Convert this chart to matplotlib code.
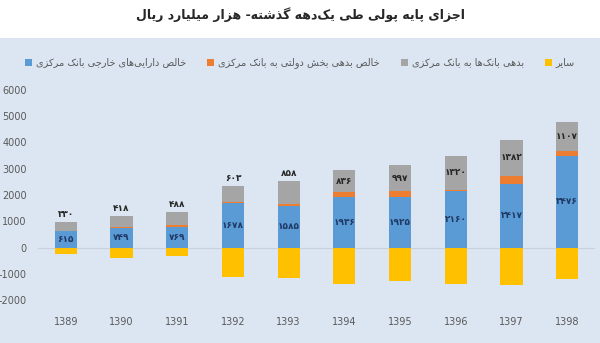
import matplotlib
matplotlib.use("Agg")
import matplotlib.pyplot as plt
from matplotlib.patches import Rectangle, Patch
import numpy as np

# Values in thousand billion rials
years = ['1389', '1390', '1391', '1392', '1393', '1394', '1395', '1396', '1397', '1398']
foreign_assets = [615, 749, 769, 1678, 1585, 1936, 1925, 2160, 2417, 3476]
gov_debt = [15, 30, 90, 60, 90, 178, 215, 20, 310, 190]
bank_debt = [330, 418, 488, 603, 858, 836, 997, 1320, 1382, 1107]
other = [-250, -390, -310, -1110, -1150, -1390, -1276, -1390, -1430, -1200]

title = 'اجزای پایه پولی طی یک\u200cدهه گذشته- هزار میلیارد ریال'
series_names = [
    'خالص دارایی\u200cهای خارجی بانک مرکزی',
    'خالص بدهی بخش دولتی به بانک مرکزی',
    'بدهی بانک\u200cها به بانک مرکزی',
    'سایر',
]

# presentation forms: (isolated, final[, initial, medial])
FORMS = {
    'ا': (0xFE8D, 0xFE8E),
    'ب': (0xFE8F, 0xFE90, 0xFE91, 0xFE92),
    'پ': (0xFB56, 0xFB57, 0xFB58, 0xFB59),
    'ت': (0xFE95, 0xFE96, 0xFE97, 0xFE98),
    'ج': (0xFE9D, 0xFE9E, 0xFE9F, 0xFEA0),
    'خ': (0xFEA5, 0xFEA6, 0xFEA7, 0xFEA8),
    'د': (0xFEA9, 0xFEAA),
    'ذ': (0xFEAB, 0xFEAC),
    'ر': (0xFEAD, 0xFEAE),
    'ز': (0xFEAF, 0xFEB0),
    'س': (0xFEB1, 0xFEB2, 0xFEB3, 0xFEB4),
    'ش': (0xFEB5, 0xFEB6, 0xFEB7, 0xFEB8),
    'ص': (0xFEB9, 0xFEBA, 0xFEBB, 0xFEBC),
    'ط': (0xFEC1, 0xFEC2, 0xFEC3, 0xFEC4),
    'ک': (0xFB8E, 0xFB8F, 0xFB90, 0xFB91),
    'گ': (0xFB92, 0xFB93, 0xFB94, 0xFB95),
    'ل': (0xFEDD, 0xFEDE, 0xFEDF, 0xFEE0),
    'م': (0xFEE1, 0xFEE2, 0xFEE3, 0xFEE4),
    'ن': (0xFEE5, 0xFEE6, 0xFEE7, 0xFEE8),
    'ه': (0xFEE9, 0xFEEA, 0xFEEB, 0xFEEC),
    'و': (0xFEED, 0xFEEE),
    'ی': (0xFBFC, 0xFBFD, 0xFBFE, 0xFBFF),
}


def shape(s):
    # join letters and lay them out right-to-left
    out = []
    for i, c in enumerate(s):
        if c == '\u200c':
            continue
        f = FORMS.get(c)
        if f is None:
            out.append(c)
            continue
        prev = s[i - 1] if i > 0 else ''
        nxt = s[i + 1] if i + 1 < len(s) else ''
        a = prev in FORMS and len(FORMS[prev]) == 4
        b = len(f) == 4 and nxt in FORMS
        idx = 3 if (a and b) else 1 if a else 2 if b else 0
        out.append(chr(f[idx]))
    return ''.join(reversed(out))


def fa_num(v):
    return str(v).translate(str.maketrans('0123456789', '۰۱۲۳۴۵۶۷۸۹'))


colors = ['#5b9bd5', '#ed7d31', '#a5a5a5', '#ffc000']

plt.rcParams['font.family'] = ['DejaVu Sans']
plt.rcParams['axes.unicode_minus'] = False

fig = plt.figure(figsize=(6, 3.43), dpi=100)
fig.patches.append(Rectangle((0, 0), 1, 1 - 38 / 343, transform=fig.transFigure,
                             facecolor='#dce6f2', edgecolor='none', zorder=-10))

ax = fig.add_axes([38 / 600, 1 - 300 / 343, 557 / 600, 210 / 343])
ax.set_facecolor('none')

x = np.arange(len(years))
w = 0.4
fa = np.array(foreign_assets)
gd = np.array(gov_debt)
bd = np.array(bank_debt)

ax.bar(x, fa, w, color=colors[0], zorder=2)
ax.bar(x, gd, w, bottom=fa, color=colors[1], zorder=2)
ax.bar(x, bd, w, bottom=fa + gd, color=colors[2], zorder=2)
ax.bar(x, other, w, color=colors[3], zorder=2)
ax.axhline(0, color='#c9d1dc', lw=0.8, zorder=1)

for i in range(len(years)):
    ax.text(x[i], fa[i] / 2, fa_num(fa[i]), ha='center', va='center',
            fontsize=6.5, fontweight='bold', color='#1f3864', zorder=3)
    top = fa[i] + gd[i] + bd[i]
    if i < 5:
        ax.annotate(fa_num(bd[i]), (x[i], top), xytext=(0, 5.5), textcoords='offset points',
                    ha='center', va='center', fontsize=6.5, fontweight='bold',
                    color='#262626', zorder=3)
    else:
        ax.text(x[i], top - bd[i] / 2, fa_num(bd[i]), ha='center', va='center',
                fontsize=6.5, fontweight='bold', color='#262626', zorder=3)

ax.set_xlim(-0.5, len(years) - 0.5)
ax.set_ylim(-2000, 6000)
ax.set_yticks(range(-2000, 6001, 1000))
ax.set_xticks(x)
ax.set_xticklabels(years)
ax.tick_params(axis='both', length=0, labelsize=7, labelcolor='#595959')
ax.tick_params(axis='y', pad=8)
ax.tick_params(axis='x', pad=12)
for sp in ax.spines.values():
    sp.set_visible(False)

fig.text(0.5, 1 - 15 / 343, shape(title), ha='center', va='center',
         fontsize=9, fontweight='bold', color='#262626')

handles = [Patch(facecolor=c, edgecolor='none') for c in colors]
fig.legend(handles, [shape(n) for n in series_names], loc='center',
           bbox_to_anchor=(0.5, 1 - 63 / 343), ncol=4, frameon=False,
           fontsize=7, labelcolor='#595959', handlelength=0.7, handleheight=0.7,
           handletextpad=0.4, columnspacing=2.2)

fig.savefig('out.png', dpi=100)
